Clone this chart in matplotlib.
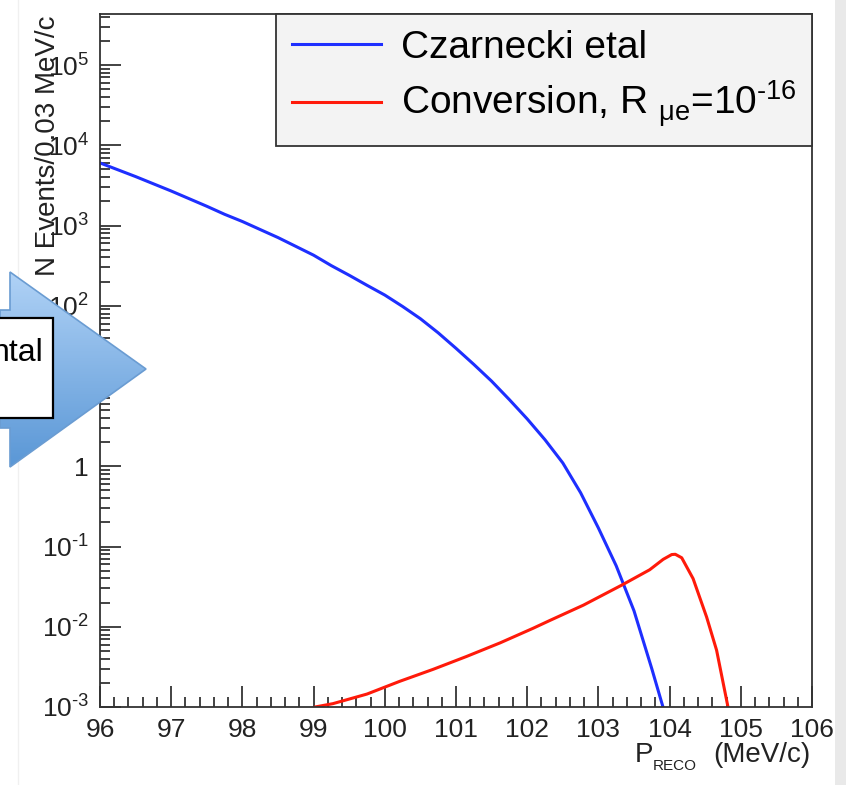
import numpy as np
import matplotlib
matplotlib.use("Agg")
import matplotlib.pyplot as plt
from matplotlib.ticker import MultipleLocator, LogLocator
from matplotlib.patches import Polygon, Rectangle
from matplotlib.colors import LinearSegmentedColormap

plt.rcParams['font.family'] = ['Liberation Sans', 'DejaVu Sans']
plt.rcParams['mathtext.fontset'] = 'custom'
plt.rcParams['mathtext.rm'] = 'Liberation Sans'
plt.rcParams['mathtext.it'] = 'Liberation Sans:italic'
plt.rcParams['mathtext.bf'] = 'Liberation Sans:bold'

# Czarnecki et al spectrum
blue_x = [96.0, 96.25, 96.5, 96.75, 97.0, 97.25, 97.5, 97.75, 98.0, 98.25,
          98.5, 98.75, 99.0, 99.25, 99.5, 99.75, 100.0, 100.25, 100.5, 100.75,
          101.0, 101.25, 101.5, 101.75, 102.0, 102.25, 102.5, 102.75, 103.0,
          103.25, 103.5, 103.75, 103.9, 104.0]
blue_y = [6026, 4955, 4074, 3311, 2692, 2163, 1738, 1380, 1122, 891,
          708, 550, 427, 316, 240, 180, 136, 98, 69, 46,
          29.5, 18.6, 11.5, 6.76, 3.89, 2.14, 1.10, 0.468, 0.170,
          0.0575, 0.0158, 0.0030, 0.00105, 0.0005]

# conversion signal, R_mue = 1e-16
red_x = [98.85, 99.02, 99.27, 99.75, 100.21, 100.68, 101.15, 101.62, 102.08, 102.32,
         102.79, 103.33, 103.72, 103.91, 104.03, 104.08, 104.17, 104.33, 104.52,
         104.66, 104.82, 104.9]
red_y = [0.0008, 0.001, 0.0011, 0.00145, 0.00209, 0.00295, 0.00427, 0.0063, 0.00955, 0.012,
         0.0186, 0.0331, 0.0513, 0.0692, 0.0794, 0.0800, 0.0724, 0.0398, 0.0132,
         0.0051, 0.001, 0.00056]

labels = ['Czarnecki etal', r'Conversion, R $_{\mathrm{\mu e}}$=10$^{\text{-16}}$']

W, H = 846, 785
fig = plt.figure(figsize=(W / 100, H / 100), dpi=100)
ax = fig.add_axes([100 / W, 1 - 707 / H, 712 / W, 693 / H])

ax.plot(blue_x, blue_y, color='#1e2fff', lw=2.2, label=labels[0])
ax.plot(red_x, red_y, color='#ff1a0a', lw=2.2, label=labels[1])

ax.set_yscale('log')
ax.set_xlim(96, 106)
ax.set_ylim(1e-3, 10 ** 5.636)

ax.xaxis.set_major_locator(MultipleLocator(1))
ax.xaxis.set_minor_locator(MultipleLocator(0.2))
ax.yaxis.set_major_locator(LogLocator(base=10, numticks=20))
ax.yaxis.set_minor_locator(LogLocator(base=10, subs=np.arange(2, 10), numticks=20))


def ylab(v, pos):
    e = int(round(np.log10(v)))
    if e == 0:
        return '1'
    if e == 1:
        return '10'
    return r'10$^{\text{%d}}$' % e


ax.yaxis.set_major_formatter(plt.FuncFormatter(ylab))
ax.xaxis.set_major_formatter(plt.FuncFormatter(lambda v, p: '%d' % v))
ax.yaxis.set_minor_formatter(plt.NullFormatter())

ax.tick_params(which='both', direction='in', top=False, right=False,
               colors='#222222', labelcolor='#222222', width=1.2)
ax.tick_params(which='major', length=15, labelsize=19)
ax.tick_params(axis='x', which='major', pad=8)
ax.tick_params(axis='y', which='major', pad=8)
ax.tick_params(which='minor', length=7.5)
for s in ax.spines.values():
    s.set_color('#333333')
    s.set_linewidth(1.3)

leg = ax.legend(loc='upper right', bbox_to_anchor=(1, 1), borderaxespad=0,
                fancybox=False, facecolor='#f3f3f3', edgecolor='#333333',
                framealpha=1, fontsize=28, handlelength=2.3, handletextpad=0.5,
                borderpad=0.4, labelspacing=0.35)
leg.get_frame().set_linewidth(1.3)

fig.text(48 / W, 1 - 15 / H, 'N Events/0.03 MeV/c', rotation=90,
         ha='center', va='top', fontsize=20, color='#222222')
# x title: P with small RECO subscript, then units
fig.text(635 / W, 1 - 762 / H, 'P', ha='left', va='baseline', fontsize=20, color='#222222')
fig.text(653 / W, 1 - 770 / H, 'RECO', ha='left', va='baseline', fontsize=11, color='#222222')
fig.text(810 / W, 1 - 762 / H, '(MeV/c)', ha='right', va='baseline', fontsize=20, color='#222222')

# overlay in pixel coordinates: arrow from the slide, page edges
ov = fig.add_axes([0, 0, 1, 1], zorder=5)
ov.axis('off')

ov.add_patch(Rectangle((835, 0), 11, H, fc='#e9e9e9', ec='none'))
ov.plot([18, 18], [0, H], color='#f0f0f0', lw=1)

arrow_pts = [(0, 310), (10, 310), (10, 272), (146, 369), (10, 467), (10, 428), (0, 428)]
arrow = Polygon(arrow_pts, closed=True, fc='none', ec='#6a9cd2', lw=1.2, zorder=3)
ov.add_patch(arrow)
grad_cmap = LinearSegmentedColormap.from_list('arr', ['#b0d2f6', '#5a97d6'])
grad = np.linspace(0, 1, 200).reshape(-1, 1)
img = ov.imshow(grad, extent=(0, 146, 467, 272), cmap=grad_cmap, aspect='auto', zorder=2)
img.set_clip_path(arrow)

ov.add_patch(Rectangle((-2, 318), 55, 100, fc='white', ec='black', lw=1.6, zorder=4))
ov.text(44, 361, 'ntal', ha='right', va='baseline', fontsize=23, color='black', zorder=5)

ov.set_xlim(0, W)
ov.set_ylim(H, 0)

fig.savefig('out.png', dpi=100)
